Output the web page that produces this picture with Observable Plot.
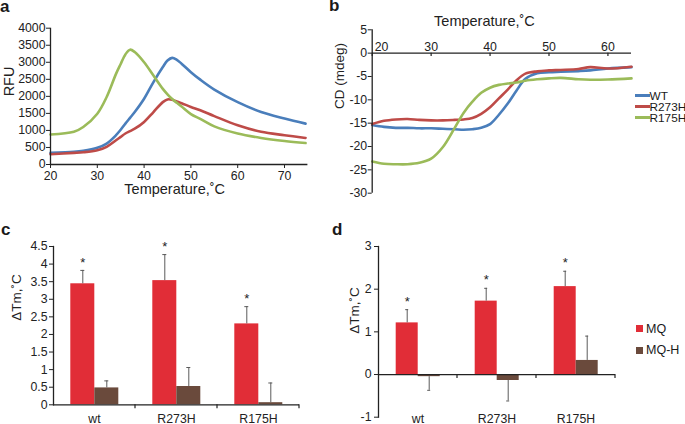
<!DOCTYPE html>
<html>
<head>
<meta charset="utf-8">
<script src="https://cdn.jsdelivr.net/npm/d3@7"></script>
<script src="https://cdn.jsdelivr.net/npm/@observablehq/plot@0.6"></script>
<style>
html,body{margin:0;padding:0;background:#fff;}
#root{position:relative;width:685px;height:424px;overflow:hidden;font-family:"Liberation Sans",Arial,sans-serif;color:#1a1a1a;}
.panel{position:absolute;}
.panel svg{overflow:visible;}
.letter{position:absolute;font-weight:bold;font-size:17px;line-height:17px;}
.lt{position:absolute;font-size:12px;line-height:10px;white-space:nowrap;}
.sw{position:absolute;}
</style>
</head>
<body>
<div id="root">
  <div class="panel" id="pa" style="left:0;top:0"></div>
  <div class="panel" id="pb" style="left:340px;top:0"></div>
  <div class="panel" id="pc" style="left:0;top:210px"></div>
  <div class="panel" id="pd" style="left:340px;top:210px"></div>
  <div class="letter" style="left:0;top:-2.4px">a</div>
  <div class="letter" style="left:329px;top:-2.7px">b</div>
  <div class="letter" style="left:1px;top:220.6px">c</div>
  <div class="letter" style="left:332px;top:220.6px">d</div>
  <div id="legb"></div>
  <div id="legd"></div>
</div>
<script>
// ---------- data ----------
const proteins = ["WT", "R273H", "R175H"];
const lineColors = ["#4a7ebb", "#be4b48", "#9bbb59"];

// panel a: DSF melting curves
const dsfTemp   = [20, 25, 27, 30, 32, 34, 35, 36, 37, 38, 40, 42, 44, 45, 46, 47, 48, 50, 52, 55, 60, 65, 70, 74.5];
const dsfWT     = [340, 370, 400, 490, 615, 860, 1020, 1200, 1370, 1540, 1930, 2420, 2860, 3050, 3130, 3070, 2960, 2710, 2490, 2200, 1830, 1540, 1350, 1200];
const dsfR273H  = [300, 340, 360, 420, 520, 710, 810, 910, 980, 1050, 1250, 1540, 1830, 1910, 1900, 1850, 1800, 1690, 1590, 1420, 1150, 960, 860, 780];
const dsfR175H  = [880, 960, 1100, 1490, 1980, 2660, 2950, 3230, 3370, 3300, 3000, 2610, 2220, 2060, 1920, 1810, 1700, 1480, 1340, 1120, 910, 780, 690, 630];
const aXTicks = [20, 30, 40, 50, 60, 70];
const aYTicks = [0, 500, 1000, 1500, 2000, 2500, 3000, 3500, 4000];

// panel b: CD thermal curves
const cdTemp   = [20, 22, 24, 26, 28, 30, 32, 34, 35.5, 37, 38.5, 40, 41.5, 43, 44.5, 46, 48, 50, 52, 55, 57, 60, 64];
const cdWT     = [-15.4, -15.8, -16.0, -16.0, -16.1, -16.1, -16.2, -16.3, -16.4, -16.3, -16.0, -15.2, -13.2, -10.8, -8.0, -5.5, -4.3, -4.1, -4.0, -3.85, -3.7, -3.3, -3.0];
const cdR273H  = [-15.2, -14.5, -14.2, -14.1, -14.3, -14.4, -14.4, -14.3, -14.2, -13.9, -13.0, -11.6, -9.7, -7.8, -5.8, -4.4, -3.9, -3.7, -3.6, -3.4, -3.0, -3.3, -2.9];
const cdR175H  = [-23.2, -23.7, -23.8, -23.8, -23.5, -22.6, -20.1, -16.0, -12.8, -10.4, -8.5, -7.4, -6.8, -6.5, -6.3, -5.9, -5.6, -5.4, -5.3, -5.6, -5.7, -5.65, -5.4];
const bXTicks = [20, 30, 40, 50, 60];
const bYTicks = [-30, -25, -20, -15, -10, -5, 0, 5];

// panels c, d: ΔTm bars
const groups = ["wt", "R273H", "R175H"];
const series = ["MQ", "MQ-H"];
const barColors = ["#e12d37", "#6a4a3c"];
const cMQ = [3.44, 3.53, 2.30];
const cMQErr = [0.38, 0.74, 0.49];
const cMQH = [0.48, 0.52, 0.06];
const cMQHErr = [0.20, 0.54, 0.56];
const cSig = [true, true, true];
const cYTicks = [0, 0.5, 1, 1.5, 2, 2.5, 3, 3.5, 4, 4.5];
const dMQ = [1.21, 1.72, 2.06];
const dMQErr = [0.31, 0.30, 0.36];
const dMQH = [-0.05, -0.14, 0.33];
const dMQHErr = [0.32, 0.48, 0.57];
const dSig = [true, true, true];
const dYTicks = [-1, 0, 1, 2, 3];

const FONT = '"Liberation Sans", Arial, sans-serif';
const AX = "#222";
const FS = 12.3;

function longTable(temps, arrays) {
  const out = [];
  arrays.forEach((arr, k) => arr.forEach((v, i) => out.push({t: temps[i], v, p: proteins[k]})));
  return out;
}
function barTable(mq, mqErr, mqh, mqhErr, sig) {
  const out = [];
  groups.forEach((g, i) => {
    out.push({group: g, series: "MQ", value: mq[i], err: mqErr[i], sig: sig[i]});
    out.push({group: g, series: "MQ-H", value: mqh[i], err: mqhErr[i], sig: false});
  });
  out.forEach(r => r.end = r.value >= 0 ? r.value + r.err : r.value - r.err);
  return out;
}

// ---------- panel a ----------
const dsf = longTable(dsfTemp, [dsfWT, dsfR273H, dsfR175H]);
const pa = Plot.plot({
  width: 340, height: 210,
  marginLeft: 50, marginRight: 32.6, marginTop: 27.7, marginBottom: 46,
  style: {fontFamily: FONT, fontSize: "12px", color: AX, background: "transparent"},
  x: {domain: [20, 75]},
  y: {domain: [0, 4000]},
  color: {domain: proteins, range: lineColors},
  marks: [
    Plot.line(dsf, {x: "t", y: "v", stroke: "p", strokeWidth: 2.6, curve: "catmull-rom"}),
    Plot.ruleY([0], {stroke: AX, strokeWidth: 1.3}),
    Plot.ruleX([20], {stroke: AX, strokeWidth: 1.3}),
    Plot.axisX({ticks: aXTicks, tickSize: 4, tickPadding: 2.5, tickFormat: d => String(d), label: null, stroke: AX, fontSize: FS}),
    Plot.axisY({ticks: aYTicks, tickSize: 4, tickPadding: 1, tickFormat: d => String(d), label: null, stroke: AX, fontSize: FS}),
    Plot.text(["Temperature,˚C"], {frameAnchor: "bottom", dx: -4.5, dy: 29.5, fontSize: 14.5}),
    Plot.text(["RFU"], {frameAnchor: "left", rotate: -90, dx: -40.7, dy: 0, fontSize: 14.5})
  ]
});
document.getElementById("pa").append(pa);

// ---------- panel b ----------
const cd = longTable(cdTemp, [cdWT, cdR273H, cdR175H]);
const pb = Plot.plot({
  width: 345, height: 210,
  marginLeft: 31.7, marginRight: 54, marginTop: 29.3, marginBottom: 17.3,
  style: {fontFamily: FONT, fontSize: "12px", color: AX, background: "transparent"},
  x: {domain: [20, 64], axis: null},
  y: {domain: [-30, 5]},
  color: {domain: proteins, range: lineColors},
  marks: [
    Plot.line(cd, {x: "t", y: "v", stroke: "p", strokeWidth: 2.6, curve: "catmull-rom"}),
    Plot.ruleY([0], {stroke: AX, strokeWidth: 1.3}),
    Plot.ruleX([20], {stroke: AX, strokeWidth: 1.3}),
    Plot.ruleX(bXTicks, {x: d => d, y1: 0, y2: -0.7, stroke: AX, strokeWidth: 1.2}),
    Plot.text(bXTicks.slice(1), {x: d => d, y: 0, text: d => String(d), dy: -6.5, fontSize: FS}),
    Plot.text(bXTicks.slice(0, 1), {x: d => d, y: 0, text: d => String(d), textAnchor: "start", dx: 2.5, dy: -6.5, fontSize: FS}),
    Plot.axisY({ticks: bYTicks, tickSize: 4, tickPadding: 1, tickFormat: d => String(d), label: null, stroke: AX, fontSize: FS}),
    Plot.text(["Temperature,˚C"], {frameAnchor: "top", dx: -17.4, dy: -14.3, fontSize: 14.5}),
    Plot.text(["CD (mdeg)"], {frameAnchor: "left", rotate: -90, dx: -32.7, dy: -2.5, fontSize: 13.5})
  ]
});
document.getElementById("pb").append(pb);

// legend b
const legb = document.getElementById("legb");
const legbY = [95.5, 106.5, 117.5];
proteins.forEach((p, i) => {
  const s = document.createElement("div");
  s.className = "sw";
  s.style.cssText = `left:635px;top:${legbY[i] - 1.25}px;width:15px;height:2.5px;background:${lineColors[i]}`;
  legb.append(s);
  const t = document.createElement("div");
  t.className = "lt";
  t.style.cssText = `left:649.5px;top:${legbY[i] - 4.9}px;font-size:11.8px`;
  t.textContent = p;
  legb.append(t);
});

// ---------- bar panels ----------
function barPanel(rows, opts) {
  const fig = Plot.plot({
    width: opts.width, height: 214,
    marginLeft: opts.ml, marginRight: opts.mr, marginTop: 36, marginBottom: opts.mb,
    style: {fontFamily: FONT, fontSize: "12px", color: AX, background: "transparent"},
    fx: {domain: groups, padding: 0, axis: null},
    x: {domain: series, paddingInner: 0, paddingOuter: opts.outer, axis: null},
    y: {domain: opts.ydom, axis: null},
    color: {domain: series, range: barColors},
    marks: [
      Plot.barY(rows, {fx: "group", x: "series", y: "value", fill: "series"}),
      Plot.ruleX(rows, {fx: "group", x: "series", y1: "value", y2: "end", stroke: "#5a5a5a", strokeWidth: 1}),
      Plot.tickY(rows, {fx: "group", x: "series", y: "end", stroke: "#5a5a5a", strokeWidth: 1, insetLeft: opts.cap, insetRight: opts.cap}),
      Plot.text(rows.filter(r => r.sig), {fx: "group", x: "series", y: "end", text: () => "*", dy: -8, fontSize: 13}),
      Plot.ruleY([0], {stroke: AX, strokeWidth: 1.3}),
      Plot.frame({anchor: "left", facetAnchor: "left", stroke: AX, strokeWidth: 1.3}),
      Plot.axisY({ticks: opts.yticks, tickSize: 4, tickPadding: opts.tp, tickFormat: d => String(d), label: null, stroke: AX, fontSize: FS}),
      Plot.text(groups, {fx: d => d, text: d => d, frameAnchor: "bottom", lineAnchor: "top", dy: opts.labDy, fontSize: FS}),
      Plot.text(["ΔTm,˚C"], {frameAnchor: "left", facetAnchor: "left", rotate: -90, dx: opts.tdx, dy: opts.tdy, fontSize: 13.5})
    ]
  });
  // category boundary tick marks (Excel style) from the library's scales
  const fx = fig.scale("fx"), y = fig.scale("y");
  const y0 = y.apply(0);
  const edges = groups.map(g => fx.apply(g) + fx.bandwidth);
  d3.select(fig).append("g").attr("stroke", AX).attr("stroke-width", 1.2)
    .selectAll("line").data(edges).join("line")
    .attr("x1", d => d).attr("x2", d => d).attr("y1", y0).attr("y2", y0 + 4);
  return fig;
}

const pc = barPanel(barTable(cMQ, cMQErr, cMQH, cMQHErr, cSig), {
  width: 340, ml: 51.7, mr: 40, mb: 19.7, outer: 0.7, ydom: [0, 4.5], yticks: cYTicks,
  cap: 10, tp: 2, labDy: 9.7, tdx: -36.7, tdy: -5
});
document.getElementById("pc").append(pc);

const pd = barPanel(barTable(dMQ, dMQErr, dMQH, dMQHErr, dSig), {
  width: 345, ml: 37.3, mr: 69, mb: 7.3, outer: 0.73, ydom: [-1, 3], yticks: dYTicks,
  cap: 9.5, tp: 3, labDy: -2.7, tdx: -24, tdy: 2
});
document.getElementById("pd").append(pd);

// legend d
const legd = document.getElementById("legd");
const legdY = [328.5, 350];
series.forEach((s, i) => {
  const sw = document.createElement("div");
  sw.className = "sw";
  sw.style.cssText = `left:636px;top:${legdY[i] - 3.5}px;width:7px;height:7px;background:${barColors[i]}`;
  legd.append(sw);
  const t = document.createElement("div");
  t.className = "lt";
  t.style.cssText = `left:646px;top:${legdY[i] - 5}px;font-size:12.5px`;
  t.textContent = s;
  legd.append(t);
});
</script>
</body>
</html>
